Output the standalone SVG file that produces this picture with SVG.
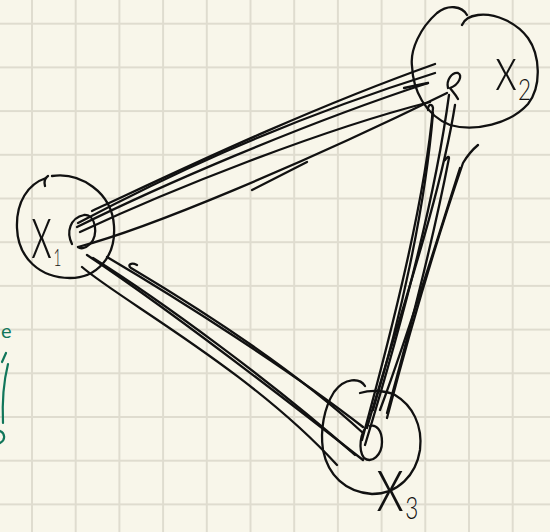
<svg xmlns="http://www.w3.org/2000/svg" width="550" height="532" viewBox="0 0 550 532">
<defs>
<pattern id="grid" x="31" y="22.7" width="43.7" height="43.7" patternUnits="userSpaceOnUse">
<path d="M1,0 V43.7 M0,1 H43.7" stroke="#dfdccf" stroke-width="2" fill="none"/>
</pattern>
<style>
.ink{fill:none;stroke:#111;stroke-width:2.3;stroke-linecap:round;stroke-linejoin:round}
.lbl{font-family:Lato,Inter,"Liberation Sans",Arial,sans-serif;font-weight:300;fill:#111}
.grn{fill:none;stroke:#11765a;stroke-width:2.2;stroke-linecap:round}
</style>
</defs>
<rect width="550" height="532" fill="#f8f6ea"/>
<rect width="550" height="532" fill="url(#grid)"/>

<g id="margin-note">
<text x="1" y="338" font-family="Lato, 'Liberation Sans', sans-serif" font-size="20" fill="#11765a">e</text>
<path class="grn" d="M2,362 L6,353"/>
<path class="grn" d="M8,364 C4,380 2,400 3,423"/>
<path class="grn" d="M0,431 C5,433 6,440 0,443"/>
</g>

<g id="connectors">
<!-- x1 - x2 -->
<path class="ink" d="M92,211 C170,175 300,112 435,64"/>
<path class="ink" d="M78,223 C150,185 270,125 435,73"/>
<path class="ink" d="M77,227 C160,186 300,125 428,83"/>
<path class="ink" d="M80,232 C170,190 320,130 430,102"/>
<path class="ink" d="M404,88 L428,83"/>
<path class="ink" d="M78,247 C150,228 300,165 447,93"/>
<path class="ink" d="M252,190 L307,162"/>
<!-- x2 - x3 -->
<path class="ink" d="M428,110 C428,104 432,103 433,108 C425,200 392,330 362,440"/>
<path class="ink" d="M433,113 C425,210 400,320 373,410"/>
<path class="ink" d="M455,105 C440,200 395,330 367,428"/>
<path class="ink" d="M449,95 C435,200 400,330 365,445"/>
<path class="ink" d="M445,160 C447,157 449,156 449,158 C435,230 410,330 387,413"/>
<path class="ink" d="M478,145 C472,150 466,158 463,163 C440,230 410,330 387,418"/>
<path class="ink" d="M460,168 C440,230 410,330 380,410"/>
<!-- x1 - x3 -->
<path class="ink" d="M107,257 C180,300 290,370 363,427"/>
<path class="ink" d="M137,265 C131,262 127,265 131,268 C210,315 300,375 363,433"/>
<path class="ink" d="M87,255 C170,310 280,395 363,460"/>
<path class="ink" d="M93,258 C160,300 270,380 355,455"/>
<path class="ink" d="M82,267 C120,300 250,370 337,465"/>
</g>

<g id="node-x1">
<path class="ink" d="M52,176 C80,172 112,192 114,226 C116,258 96,278 70,278 C40,278 18,258 17,228 C16,202 28,184 46,178"/>
<path class="ink" d="M45,186 C44,182 45,178 48,176"/>
<path class="ink" d="M72,244 C66,232 70,218 84,215 C96,214 99,236 90,244 C85,249 80,249 78,247"/>
<text class="lbl" transform="translate(31,258) scale(0.8,1.4)" font-size="56">x<tspan font-size="17" dx="2" dy="5.7">1</tspan></text>
</g>

<g id="node-x2">
<path class="ink" d="M467,15 C462,6 448,4 437,13 C420,28 410,50 412,66 C413,90 425,115 450,125 C475,132 510,124 528,104 C542,86 540,55 528,38 C516,22 495,13 478,15 C470,16 464,20 462,25"/>
<path class="ink" d="M448,88 C446,80 452,72 458,73 C463,75 459,85 450,88 C453,92 456,95 458,99"/>
<text class="lbl" transform="translate(495,90) scale(0.98,1.32)" font-size="48">x<tspan font-size="23" dx="1" dy="7.6">2</tspan></text>
</g>

<g id="node-x3">
<path class="ink" d="M365,386 C360,378 345,377 334,392 C324,408 320,430 323,450 C328,475 345,492 372,494 C398,494 416,475 420,450 C423,425 412,405 395,395 C385,390 370,390 360,393"/>
<path class="ink" d="M368,425 C360,432 358,450 364,458 C372,464 382,455 382,442 C382,430 376,424 370,426"/>
<text class="lbl" transform="translate(376,511) scale(1.07,1.45)" font-size="56">x<tspan font-size="21" dx="1" dy="5.5">3</tspan></text>
</g>
</svg>
